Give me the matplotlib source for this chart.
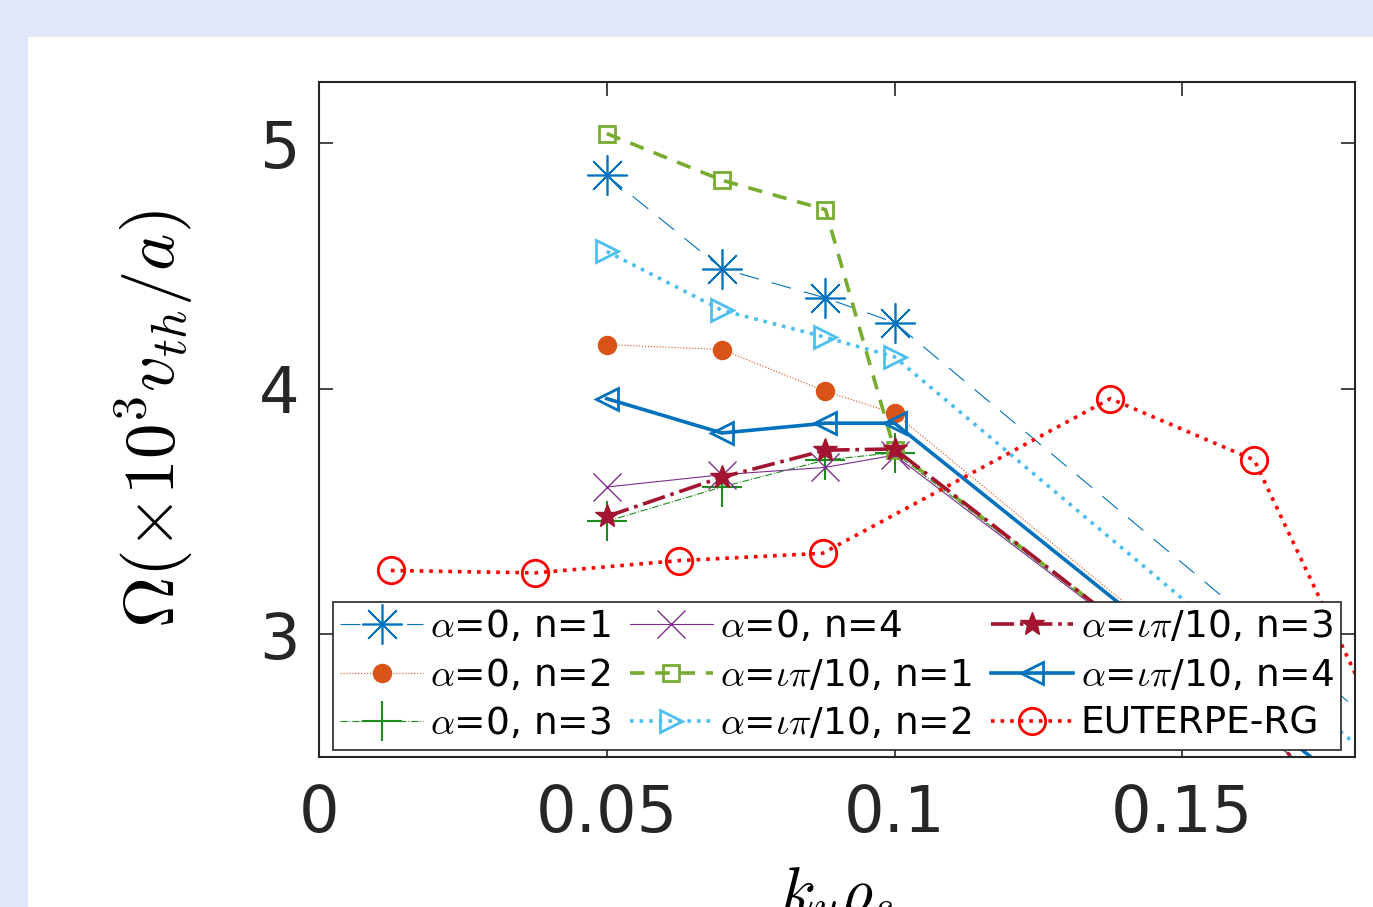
import matplotlib
matplotlib.use("Agg")
import matplotlib.pyplot as plt
from matplotlib.patches import Rectangle

plt.rcParams['mathtext.fontset'] = 'cm'
plt.rcParams['font.family'] = ['DejaVu Sans']

# simulation wavenumbers (last one lies beyond the visible range)
k_sim = [0.05, 0.07, 0.088, 0.1, 0.2]

a0_n1 = [4.87, 4.49, 4.37, 4.27, 2.31]
a0_n2 = [4.18, 4.16, 3.99, 3.90, 1.97]
a0_n3 = [3.46, 3.60, 3.71, 3.74, 1.95]
a0_n4 = [3.60, 3.65, 3.68, 3.73, 1.95]
ai_n1 = [5.04, 4.85, 4.73, 3.75, 1.95]
ai_n2 = [4.56, 4.32, 4.21, 4.13, 2.16]
ai_n3 = [3.48, 3.64, 3.75, 3.755, 1.94]
ai_n4 = [3.96, 3.82, 3.86, 3.86, 1.98]

k_eut = [0.0125, 0.0375, 0.0625, 0.0875, 0.1375, 0.1625, 0.1875]
eut = [3.26, 3.25, 3.30, 3.33, 3.96, 3.71, 2.47]

W, H = 1373, 907
fig = plt.figure(figsize=(W / 100, H / 100), dpi=100, facecolor='#e1e9f8')
bg = Rectangle((28 / W, 0), 1, 1 - 37 / H, transform=fig.transFigure,
               facecolor='white', edgecolor='none', zorder=-10)
fig.add_artist(bg)
ax = fig.add_axes([319 / W, 1 - 757 / H, (1355 - 319) / W, (757 - 82) / H])
ax.set_zorder(5)

thin = 0.8
thick = 2.6
ax.plot(k_sim, a0_n1, '--', color='#0072BD', lw=thin, dashes=(18, 12), marker=(8, 2, 0),
        ms=29, mew=1.2, label=r'$\alpha$=0, n=1')
ax.plot(k_sim, a0_n2, ':', color='#D95319', lw=thin, marker='o', ms=13,
        label=r'$\alpha$=0, n=2')
ax.plot(k_sim, a0_n3, '-.', color='#1f8a1f', lw=thin, marker='+', ms=29, mew=1.5,
        label=r'$\alpha$=0, n=3')
ax.plot(k_sim, a0_n4, '-', color='#7E2F8E', lw=thin, marker='x', ms=20, mew=1.0,
        label=r'$\alpha$=0, n=4')
ax.plot(k_sim, ai_n1, '--', color='#77AC30', lw=thick, dashes=(4, 3), marker='s', ms=12,
        mfc='none', mew=2, label=r'$\alpha$=$\iota\pi$/10, n=1')
ax.plot(k_sim, ai_n2, ':', color='#4DBEEE', lw=thick, marker='>', ms=16, mfc='none', mew=2,
        label=r'$\alpha$=$\iota\pi$/10, n=2')
ax.plot(k_sim, ai_n3, '-.', color='#A2142F', lw=thick, marker='*', ms=18,
        label=r'$\alpha$=$\iota\pi$/10, n=3')
ax.plot(k_sim, ai_n4, '-', color='#0072BD', lw=thick, marker='<', ms=16, mfc='none', mew=2,
        label=r'$\alpha$=$\iota\pi$/10, n=4')
ax.plot(k_eut, eut, ':', color='#FF0000', lw=thick, marker='o', ms=19, mfc='none', mew=2,
        label='EUTERPE-RG')

ax.set_xlim(0, 0.18)
ax.set_ylim(2.5, 5.25)
ax.set_xticks([0, 0.05, 0.1, 0.15])
ax.set_xticklabels(['0', '0.05', '0.1', '0.15'])
ax.set_yticks([3, 4, 5])
ax.tick_params(direction='in', length=10, width=1.2, top=True, right=True,
               labelsize=46, colors='#262626')
ax.tick_params(axis='x', pad=19)
ax.tick_params(axis='y', pad=14)
for s in ax.spines.values():
    s.set_color('#262626')
    s.set_linewidth(1.5)

ax.set_ylabel(r'$\Omega(\times 10^3 v_{th}/a)$', fontsize=51, labelpad=46)
ax.set_xlabel(r'$k_y\rho_s$', fontsize=46, labelpad=14)

leg = ax.legend(loc='lower center', ncol=3, fontsize=27, frameon=True, fancybox=False,
                framealpha=1, edgecolor='#262626', handlelength=2.2, handletextpad=0.2,
                columnspacing=0.5, labelspacing=0.33, borderpad=0.2, borderaxespad=0.2)
leg.get_frame().set_linewidth(1.2)

fig.savefig('out.png', dpi=100, facecolor=fig.get_facecolor())
